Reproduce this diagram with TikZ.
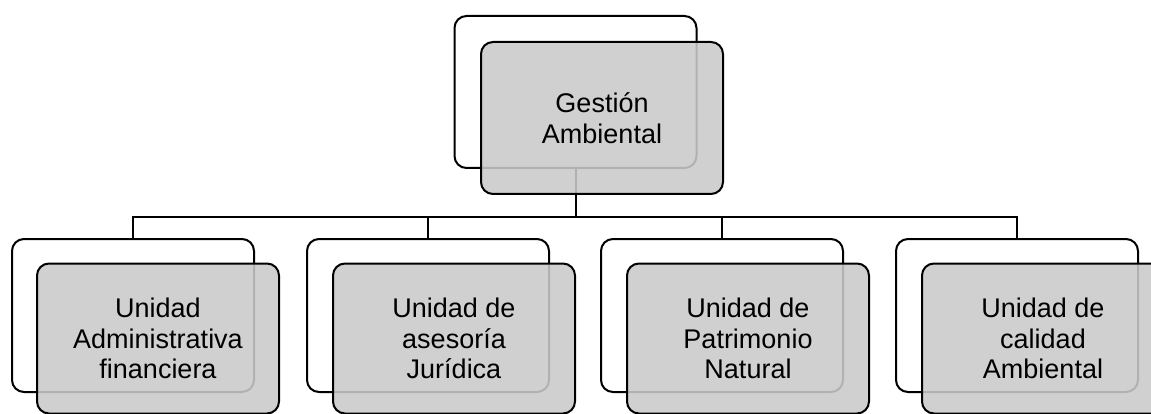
\documentclass[tikz,border=0pt]{standalone}
\usepackage{fontspec}
\setmainfont{Liberation Sans}
\definecolor{frontgray}{RGB}{202,202,202}
\begin{document}
\begin{tikzpicture}[x=1pt,y=-1pt,
  backbox/.style={draw=black, line width=2pt, rounded corners=12pt, fill=white,
    minimum width=242pt, minimum height=153pt, inner sep=0pt},
  frontbox/.style={draw=black, line width=2pt, rounded corners=12pt, fill=frontgray,
    fill opacity=0.88, text opacity=1, minimum width=242pt, minimum height=150pt,
    inner sep=0pt, align=center, font=\fontsize{27}{30.5}\selectfont},
  conn/.style={draw=black, line width=2pt}]
\useasboundingbox (0,0) rectangle (1151,414);
\clip (0,0) rectangle (1151,414);
% back boxes
\node[backbox, minimum height=152pt] (tb) at (575.5,92) {};
\node[backbox] (c1b) at (133,315.5) {};
\node[backbox] (c2b) at (428,315.5) {};
\node[backbox] (c3b) at (722,315.5) {};
\node[backbox] (c4b) at (1017,315.5) {};
% connectors
\coordinate (bus) at (575.5,217);
\draw[conn] (tb.south) -- (bus);
\draw[conn] (c1b.north) |- (bus) -| (c4b.north);
\draw[conn] (c2b.north) -- (c2b.north |- bus);
\draw[conn] (c3b.north) -- (c3b.north |- bus);
% front boxes
\node[frontbox, minimum height=152pt] (tf) at (602,118) {Gestión\\Ambiental};
\node[frontbox] (c1f) at (158,338.5) {Unidad\\Administrativa\\financiera};
\node[frontbox] (c2f) at (454,338.5) {Unidad de\\asesoría\\Jurídica};
\node[frontbox] (c3f) at (748,338.5) {Unidad de\\Patrimonio\\Natural};
\node[frontbox] (c4f) at (1043,338.5) {Unidad de\\calidad\\Ambiental};
\end{tikzpicture}
\end{document}
